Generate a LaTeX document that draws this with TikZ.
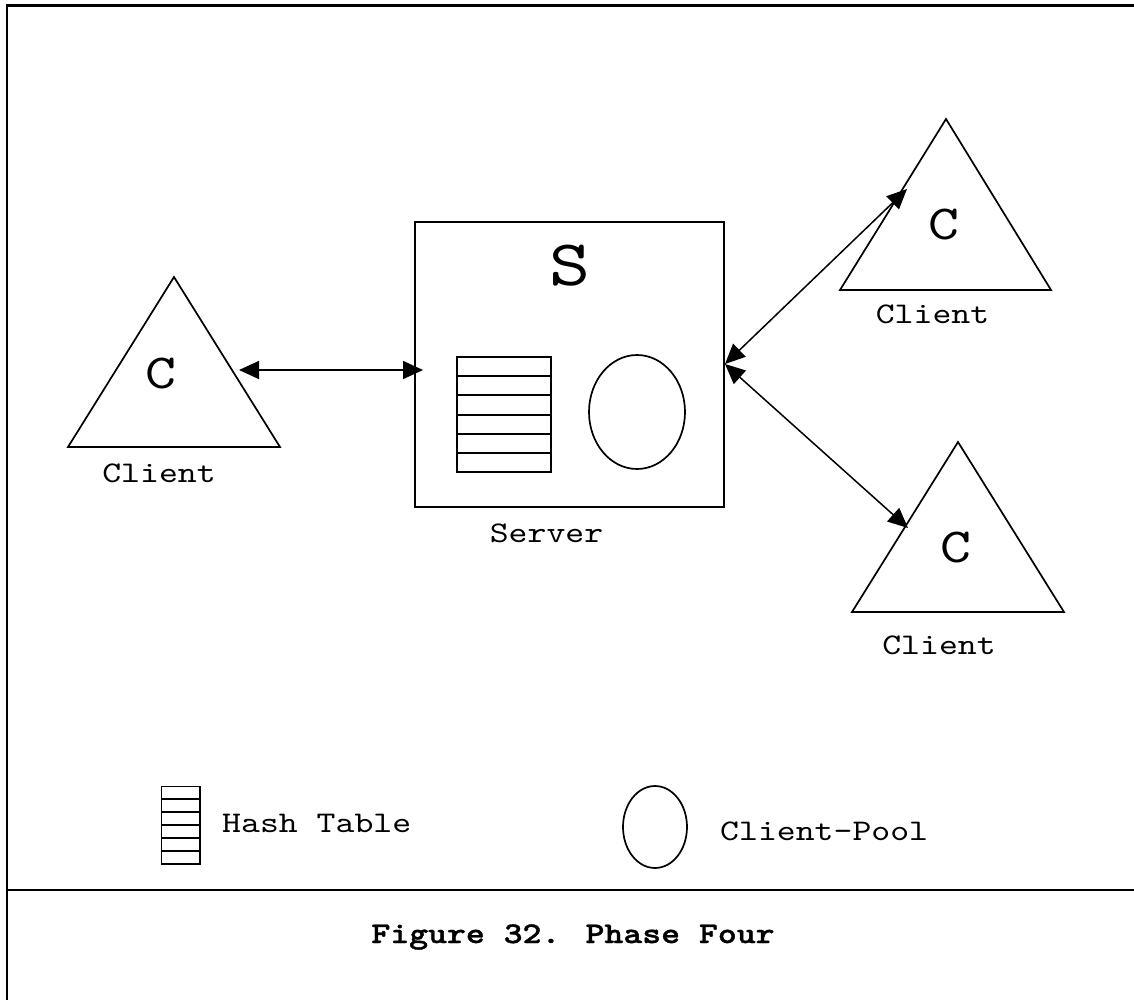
\documentclass[tikz,border=0pt]{standalone}
\usepackage{fontspec}
\newfontfamily\cour[FakeStretch=1.2,BoldFont=lmmonolt10-bold.otf,BoldFeatures={FakeStretch=1.2,FakeBold=1.2}]{lmmono10-regular.otf}
\usetikzlibrary{arrows.meta,shapes.geometric}
\begin{document}
\begin{tikzpicture}[x=1pt,y=-1pt,
  shape line/.style={line width=1.7pt},
  row line/.style={line width=2.3pt},
  frameline/.style={line width=2.4pt},
  lbl/.style={font=\cour\fontsize{30}{36}\selectfont, anchor=base, inner sep=0pt},
  captiontext/.style={font=\cour\bfseries\fontsize{30}{36}\selectfont, anchor=base, inner sep=0pt},
  bigC/.style={font=\cour\fontsize{49}{58}\selectfont, anchor=base, inner sep=0pt},
  bigS/.style={font=\cour\fontsize{65}{78}\selectfont, anchor=base, inner sep=0pt},
  conn/.style={line width=1.5pt, {Triangle[length=20pt,width=18pt]}-{Triangle[length=20pt,width=18pt]}},
  tablebox/.style={draw, shape line, rectangle, inner sep=0pt},
  poolshape/.style={draw, shape line, ellipse, inner sep=0pt}
]
\useasboundingbox (0,0) rectangle (1134,1000);
% frame
\draw[frameline] (7,1000) -- (7,5.5) -- (1134,5.5);
\draw[frameline] (7,890) -- (1134,890);

% server
\node[draw, shape line, rectangle, minimum width=309pt, minimum height=285pt, inner sep=0pt] (srv) at (569.5,364.5) {};
\node[bigS] (sS) at (569.5,285) {S};
\node[lbl] (srvlbl) at (546.5,542) {Server};
\node[tablebox, minimum width=94pt, minimum height=115pt] (ht) at (504,414.5) {};
\foreach \yy in {376,395,415,434,453}
  \draw[row line] (457,\yy) -- (551,\yy);
\node[poolshape, minimum width=96pt, minimum height=114pt] (pool) at (637,412) {};

% left client
\draw[shape line] (68,447) -- (174,277) -- (280,447) -- cycle;
\node[bigC] (cL) at (161,388) {C};
\node[lbl] (clL) at (159,482) {Client};

% top-right client
\draw[shape line] (840,290) -- (946,119) -- (1051,290) -- cycle;
\node[bigC] (cTR) at (943.5,240) {C};
\node[lbl] (clTR) at (932.5,323) {Client};

% bottom-right client
\draw[shape line] (852,612) -- (958,442) -- (1064,612) -- cycle;
\node[bigC] (cBR) at (955.5,562) {C};
\node[lbl] (clBR) at (939,654) {Client};

% connectors
\coordinate (lt) at (239,370);
\coordinate (srvL) at (423,370);
\coordinate (srvR) at (725,364);
\coordinate (tr1) at (907,189);
\coordinate (tr2) at (908,528);
\draw[conn] (lt) -- (srvL);
\draw[conn] (srvR) -- (tr1);
\draw[conn] (srvR) -- (tr2);

% legend
\node[tablebox, minimum width=38.5pt, minimum height=77.5pt] (lht) at (180.75,825.25) {};
\foreach \yy in {799,812,825,838,851}
  \draw[row line] (161.5,\yy) -- (200,\yy);
\node[lbl, anchor=base west] (lhtl) at (222,832) {Hash Table};
\node[poolshape, minimum width=64pt, minimum height=82pt] (lpool) at (655,827) {};
\node[lbl, anchor=base west] (lpooll) at (720,840) {Client-Pool};

% caption
\node[captiontext] (capt) at (573,943) {Figure 32. Phase Four};
\end{tikzpicture}
\end{document}
